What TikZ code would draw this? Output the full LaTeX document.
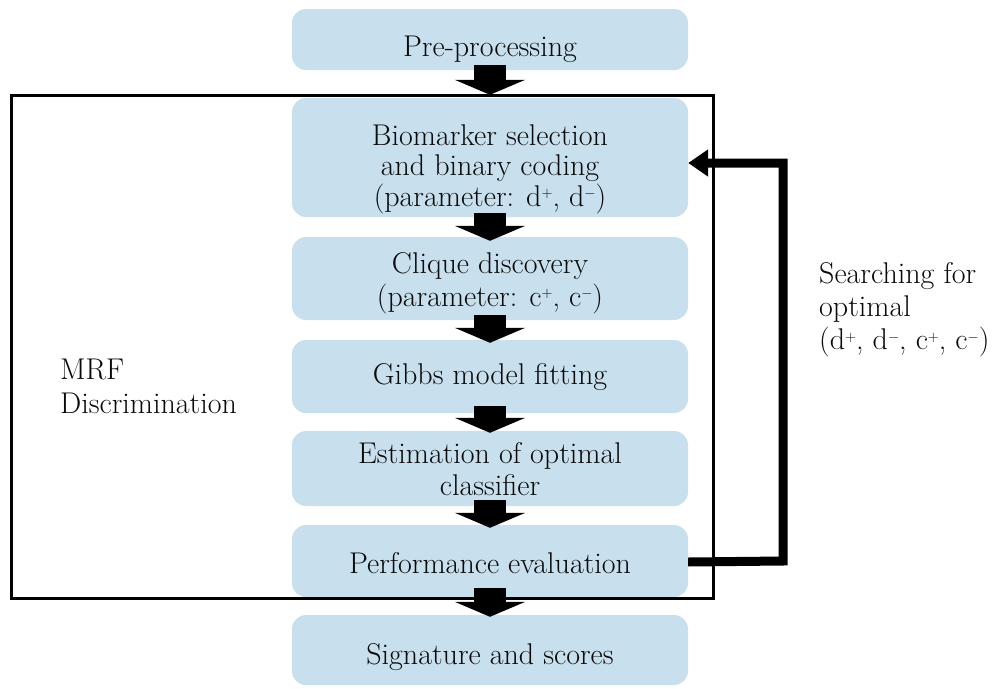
\documentclass[tikz,border=0pt]{standalone}
\usepackage{fontspec}
\usetikzlibrary{arrows.meta,calc}
\definecolor{boxblue}{RGB}{200,223,237}
\definecolor{ink}{RGB}{10,10,10}
\newcommand\lowr[2]{\raisebox{-#1}[\height][\depth]{\begin{tabular}{@{}c@{}}#2\end{tabular}}}
\newcommand\heavytext{\fontsize{30}{32}\selectfont\addfontfeatures{FakeBold=1.4}}
\newcommand\sps[1]{\raisebox{8.5pt}[0pt][0pt]{\fontsize{15}{15}\selectfont$#1$}}
\begin{document}
\begin{tikzpicture}[x=1pt,y=-1pt,
  box/.style={draw=none,fill=boxblue,rounded corners=14pt,minimum width=396pt,
    inner sep=0pt,align=center,text=ink,font=\heavytext},
  blockarrow/.style={draw=black,line width=32pt,-{Triangle[length=15pt,width=70pt]}},
  lbl/.style={inner sep=0pt,align=left,text=ink,font=\heavytext}]
\useasboundingbox (0,0) rectangle (1000,688);
% boxes
\node[box,minimum height=61pt]  (pre)    at (490,39.5)  {\lowr{11pt}{Pre-processing}};
\node[box,minimum height=119pt] (bio)    at (490,157.5)
  {\lowr{12pt}{Biomarker selection\\[-1.5pt]and binary coding\\[-1.5pt](parameter: d\sps{+}, d\sps{-})}};
\node[box,minimum height=83pt]  (clique) at (490,278.5)
  {\lowr{5pt}{Clique discovery\\[1pt](parameter: c\sps{+}, c\sps{-})}};
\node[box,minimum height=73pt]  (gibbs)  at (490,376.5) {\lowr{2pt}{Gibbs model fitting}};
\node[box,minimum height=75pt]  (est)    at (490,468.5) {\lowr{5pt}{Estimation of optimal\\classifier}};
\node[box,minimum height=72pt]  (perf)   at (490,561)   {\lowr{6pt}{Performance evaluation}};
\node[box,minimum height=70pt]  (sig)    at (490,650)   {\lowr{8pt}{Signature and scores}};
% frame
\draw[line width=3pt,black] (11,95) rectangle (713,598);
% labels
\node[lbl,anchor=west] (mrf) at (60,386) {MRF\\[2pt]Discrimination};
\node[lbl,anchor=west] (search) at (819,310) {Searching for\\[1pt]optimal\\[1pt](d\sps{+}, d\sps{-}, c\sps{+}, c\sps{-})};
% block arrows
\draw[blockarrow] ([yshift=5pt]pre.south)    -- ([yshift=3pt]bio.north);
\draw[blockarrow] ([yshift=4pt]bio.south)    -- ([yshift=-4pt]clique.north);
\draw[blockarrow] ([yshift=5pt]clique.south) -- ([yshift=-3pt]gibbs.north);
\draw[blockarrow] ([yshift=7pt]gibbs.south)  -- ([yshift=-2pt]est.north);
\draw[blockarrow] ([yshift=6pt]est.south)    -- ([yshift=-3pt]perf.north);
\draw[blockarrow] ([yshift=9pt]perf.south)   -- ([yshift=-2pt]sig.north);
% feedback loop
\coordinate (fbr) at (783,561);
\draw[line width=9pt,line join=miter,-{Triangle[length=20pt,width=26pt]}]
  ([yshift=-1pt]perf.east) -- (fbr) |- ([yshift=-5.5pt]bio.east);
\end{tikzpicture}
\end{document}
